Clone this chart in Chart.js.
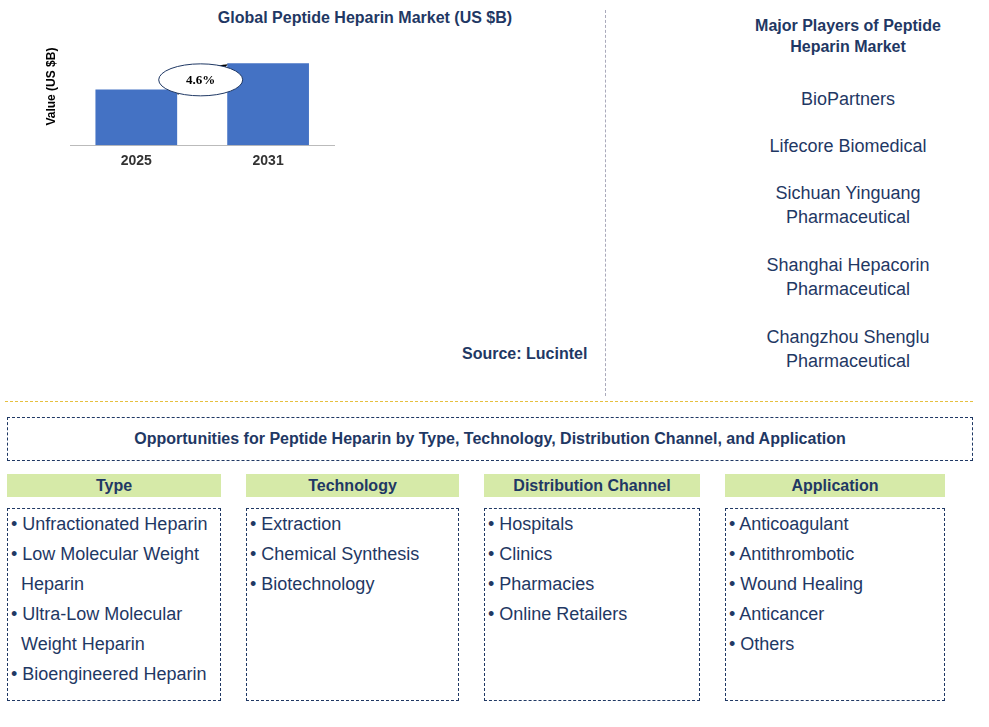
<!DOCTYPE html>
<html><head><meta charset="utf-8">
<script src="https://cdn.jsdelivr.net/npm/chart.js@4/dist/chart.umd.min.js"></script>
<style>
body{margin:0;width:989px;height:727px;background:#fff;font-family:"Liberation Sans",Arial,sans-serif;position:relative;overflow:hidden}
.a{position:absolute}
.t{color:#1f3864;text-align:center}
.hd{position:absolute;top:474px;height:23px;background:#d6eaa8;color:#1f3864;font-weight:bold;font-size:16px;text-align:center;line-height:23px}
.lb{position:absolute;top:509px;height:193px;border:1px dashed #1f3864;box-sizing:border-box;color:#1f3864;font-size:18px;line-height:30px;padding:0 0 0 3px;margin-top:-1px}
.lb div{padding-left:10px;text-indent:-10px}
</style></head><body>
<div class="a t" style="left:130px;top:9px;width:470px;font-weight:bold;font-size:16px">Global Peptide Heparin Market (US $B)</div>
<div class="a" style="left:40px;top:28px;width:540px;height:250px"><canvas id="c"></canvas></div>
<div class="a" style="left:462px;top:345px;font-weight:bold;font-size:16px;color:#1f3864">Source: Lucintel</div>
<div class="a" style="left:605px;top:10px;height:386px;border-left:1px dashed #aab"></div>
<div class="a t" style="left:748px;top:15px;width:200px;font-weight:bold;font-size:16px;line-height:21px">Major Players of Peptide Heparin Market</div>
<div class="a t" style="left:710px;top:87px;width:276px;font-size:18px;line-height:24px">
<div>BioPartners</div><div style="margin-top:23px">Lifecore Biomedical</div><div style="margin-top:23px">Sichuan Yinguang<br>Pharmaceutical</div><div style="margin-top:24px">Shanghai Hepacorin<br>Pharmaceutical</div><div style="margin-top:24px">Changzhou Shenglu<br>Pharmaceutical</div></div>
<div class="a" style="left:5px;top:401px;width:968px;border-top:1px dashed #e6c040"></div>
<div class="a t" style="left:7px;top:417px;width:966px;height:44px;border:1px dashed #1f3864;box-sizing:border-box;font-weight:bold;font-size:16px;line-height:42px">Opportunities for Peptide Heparin by Type, Technology, Distribution Channel, and Application</div>
<div class="hd" style="left:7px;width:214px">Type</div>
<div class="hd" style="left:246px;width:213px">Technology</div>
<div class="hd" style="left:484px;width:216px">Distribution Channel</div>
<div class="hd" style="left:725px;width:220px">Application</div>
<div class="lb" style="left:7px;width:214px"><div>• Unfractionated Heparin</div><div>• Low Molecular Weight Heparin</div><div>• Ultra-Low Molecular Weight Heparin</div><div>• Bioengineered Heparin</div></div>
<div class="lb" style="left:246px;width:213px"><div>• Extraction</div><div>• Chemical Synthesis</div><div>• Biotechnology</div></div>
<div class="lb" style="left:484px;width:216px"><div>• Hospitals</div><div>• Clinics</div><div>• Pharmacies</div><div>• Online Retailers</div></div>
<div class="lb" style="left:725px;width:220px"><div>• Anticoagulant</div><div>• Antithrombotic</div><div>• Wound Healing</div><div>• Anticancer</div><div>• Others</div></div>
<script>
const categories=["2025","2031"];
const values=[0.76,1.12];
const cagrLabel="4.6%";
const arrowPlugin={id:"arr",afterDatasetsDraw(ch){
 const m=ch.getDatasetMeta(0).data,ctx=ch.ctx;
 const x1=m[0].x+m[0].width/2,y1=m[0].y+4,x2=m[1].x-m[1].width/2-3,y2=m[1].y+3;
 ctx.save();ctx.strokeStyle="#000";ctx.lineWidth=3;
 ctx.beginPath();ctx.moveTo(x1,y1);ctx.lineTo(x2,y2);ctx.stroke();
 const an=Math.atan2(y2-y1,x2-x1);ctx.fillStyle="#000";ctx.beginPath();
 ctx.moveTo(x2+4*Math.cos(an),y2+4*Math.sin(an));
 ctx.lineTo(x2-10*Math.cos(an)+6*Math.sin(an),y2-10*Math.sin(an)-6*Math.cos(an));
 ctx.lineTo(x2-10*Math.cos(an)-6*Math.sin(an),y2-10*Math.sin(an)+6*Math.cos(an));ctx.fill();
 const cx=(x1+x2)/2,cy=(y1+y2)/2;
 ctx.beginPath();ctx.ellipse(cx,cy,42,16,0,0,2*Math.PI);ctx.fillStyle="#fff";ctx.fill();
 ctx.lineWidth=1;ctx.strokeStyle="#1f3864";ctx.stroke();
 ctx.fillStyle="#000";ctx.font="bold 13px 'Liberation Serif'";ctx.textAlign="center";ctx.textBaseline="middle";
 ctx.fillText(cagrLabel,cx,cy+1);ctx.restore();}};
new Chart(document.getElementById("c"),{type:"bar",
 data:{labels:categories,datasets:[{data:values,backgroundColor:"#4472c4",barPercentage:0.62,categoryPercentage:1}]},
 options:{responsive:false,animation:false,maintainAspectRatio:false,
  layout:{padding:{left:0,right:6,top:0,bottom:0}},
  plugins:{legend:{display:false},tooltip:{enabled:false}},
  scales:{x:{grid:{display:false,drawTicks:false},border:{color:"#bbb"},ticks:{color:"#333",font:{size:14,weight:"bold",family:"Liberation Sans"},padding:8}},
   y:{min:0,max:1.6,grid:{display:false},border:{display:false},ticks:{display:false},
    title:{display:true,text:"Value (US $B)",color:"#000",font:{size:12,weight:"bold",family:"Liberation Sans"}}}}},
 plugins:[arrowPlugin]});
</script>
</body></html>
